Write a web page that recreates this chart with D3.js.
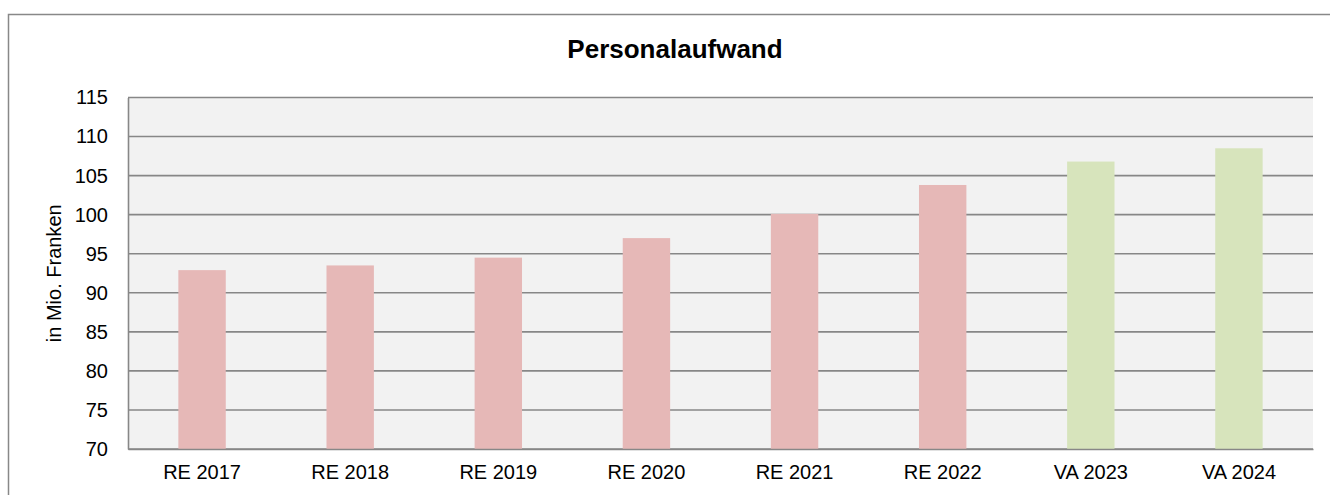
<!DOCTYPE html>
<html>
<head>
<meta charset="utf-8">
<script src="https://cdn.jsdelivr.net/npm/d3@7"></script>
<style>
  body { margin: 0; background: #fff; }
  text { font-family: "Liberation Sans", Arial, sans-serif; fill: #000; }
</style>
</head>
<body>
<div id="chart"></div>
<script>
const width = 1330;
const height = 495;

// data
const categories = ["RE 2017", "RE 2018", "RE 2019", "RE 2020", "RE 2021", "RE 2022", "VA 2023", "VA 2024"];
const values = [92.9, 93.5, 94.5, 97.0, 100.1, 103.8, 106.8, 108.5];
const kinds = ["RE", "RE", "RE", "RE", "RE", "RE", "VA", "VA"];
const yTicks = [70, 75, 80, 85, 90, 95, 100, 105, 110, 115];

const colors = { RE: "#e6b8b7", VA: "#d7e4bc" };

const plot = { left: 128, right: 1313, top: 97.5, bottom: 449 };

const svg = d3.select("#chart")
  .append("svg")
  .attr("width", width)
  .attr("height", height);

// outer chart border (runs off the right and bottom edge)
svg.append("rect")
  .attr("x", 8.5)
  .attr("y", 14.5)
  .attr("width", width + 20)
  .attr("height", height + 20)
  .attr("fill", "#fff")
  .attr("stroke", "#888")
  .attr("stroke-width", 1.5);

const x = d3.scaleBand()
  .domain(categories)
  .range([plot.left, plot.right])
  .paddingInner(0.68)
  .paddingOuter(0.34);

const y = d3.scaleLinear()
  .domain([70, 115])
  .range([plot.bottom, plot.top]);

// plot background
svg.append("rect")
  .attr("x", plot.left)
  .attr("y", plot.top)
  .attr("width", plot.right - plot.left)
  .attr("height", plot.bottom - plot.top)
  .attr("fill", "#f2f2f2");

// gridlines
svg.append("g")
  .selectAll("line")
  .data(yTicks)
  .enter()
  .append("line")
  .attr("x1", plot.left)
  .attr("x2", plot.right)
  .attr("y1", d => y(d))
  .attr("y2", d => y(d))
  .attr("stroke", "#878787")
  .attr("stroke-width", 1.6);

// bars
svg.append("g")
  .selectAll("rect")
  .data(categories)
  .enter()
  .append("rect")
  .attr("x", d => x(d))
  .attr("width", x.bandwidth())
  .attr("y", (d, i) => y(values[i]))
  .attr("height", (d, i) => y(70) - y(values[i]))
  .attr("fill", (d, i) => colors[kinds[i]]);

// axes
const yAxis = svg.append("g")
  .attr("transform", `translate(${plot.left},0)`)
  .call(d3.axisLeft(y).tickValues(yTicks).tickSize(0).tickPadding(20));

yAxis.select(".domain")
  .attr("stroke", "#878787")
  .attr("stroke-width", 1.6);

yAxis.selectAll("text")
  .style("font-size", "20px")
  .style("font-family", "'Liberation Sans', Arial, sans-serif")
  .attr("fill", "#000");

const xAxis = svg.append("g")
  .attr("transform", `translate(0,${plot.bottom})`)
  .call(d3.axisBottom(x).tickSize(0).tickPadding(16));

xAxis.select(".domain")
  .attr("stroke", "#878787")
  .attr("stroke-width", 1.6);

xAxis.selectAll("text")
  .style("font-size", "20px")
  .style("font-family", "'Liberation Sans', Arial, sans-serif")
  .attr("fill", "#000");

// title
svg.append("text")
  .attr("x", 675)
  .attr("y", 58)
  .attr("text-anchor", "middle")
  .style("font-size", "26px")
  .style("font-weight", "bold")
  .text("Personalaufwand");

// y axis label
svg.append("text")
  .attr("transform", `translate(61,${(plot.top + plot.bottom) / 2}) rotate(-90)`)
  .attr("text-anchor", "middle")
  .style("font-size", "20px")
  .text("in Mio. Franken");
</script>
</body>
</html>
